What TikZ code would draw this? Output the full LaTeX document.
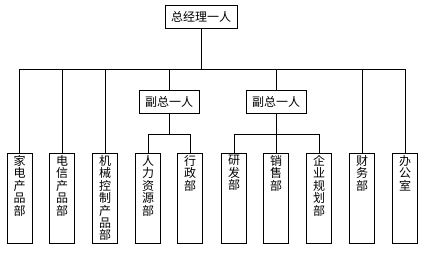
\documentclass[tikz,border=0pt]{standalone}
\usepackage{fontspec}
\setmainfont{Noto Sans CJK SC}
\usetikzlibrary{positioning}
\newcommand{\shu}[1]{\parbox[t][86pt][t]{13pt}{\centering #1}}

\begin{document}
\begin{tikzpicture}[x=1pt,y=-1pt,line width=0.8pt]
  \tikzstyle{box}=[draw,line width=0.8pt,inner sep=0pt,font=\fontsize{12}{12.4}\selectfont]
  \tikzstyle{dept}=[box,anchor=north,minimum width=25pt,inner sep=2pt]
  \useasboundingbox (0,0) rectangle (425,254);
  \node[box,minimum width=72pt,minimum height=23pt] (zjl) at (201,16.5) {总经理一人};
  \node[box,minimum width=60pt,minimum height=23pt] (fz1) at (169,101.5) {副总一人};
  \node[box,minimum width=60pt,minimum height=23pt] (fz2) at (276,101.5) {副总一人};
  \node[dept] (jd) at (19.5,153) {\shu{家\\电\\产\\品\\部}};
  \node[dept] (dx) at (62,153) {\shu{电\\信\\产\\品\\部}};
  \node[dept] (jx) at (105,153) {\shu{机\\械\\控\\制\\产\\品\\部}};
  \node[dept] (rl) at (148,153) {\shu{人\\力\\资\\源\\部}};
  \node[dept] (xz) at (190,153) {\shu{行\\政\\部}};
  \node[dept] (yf) at (234,153) {\shu{研\\发\\部}};
  \node[dept] (xs) at (276,153) {\shu{销\\售\\部}};
  \node[dept] (gh) at (319,153) {\shu{企\\业\\规\\划\\部}};
  \node[dept] (cw) at (362,153) {\shu{财\\务\\部}};
  \node[dept] (bg) at (405,153) {\shu{办\\公\\室}};
  \coordinate (bus) at (0,69);
  \coordinate (sub) at (0,134);
  \draw (zjl.south) -- (zjl.south |- bus);
  \draw (jd.north |- bus) -- (bg.north |- bus);
  \draw (jd.north) -- (jd.north |- bus);
  \draw (dx.north) -- (dx.north |- bus);
  \draw (jx.north) -- (jx.north |- bus);
  \draw (cw.north) -- (cw.north |- bus);
  \draw (bg.north) -- (bg.north |- bus);
  \draw (fz1.north) -- (fz1.north |- bus);
  \draw (fz2.north) -- (fz2.north |- bus);
  \draw (fz1.south) -- (fz1.south |- sub);
  \draw (rl.north) -- (rl.north |- sub) -- (xz.north |- sub) -- (xz.north);
  \draw (fz2.south) -- (xs.north);
  \draw (yf.north) -- (yf.north |- sub) -- (gh.north |- sub) -- (gh.north);
\end{tikzpicture}
\end{document}
